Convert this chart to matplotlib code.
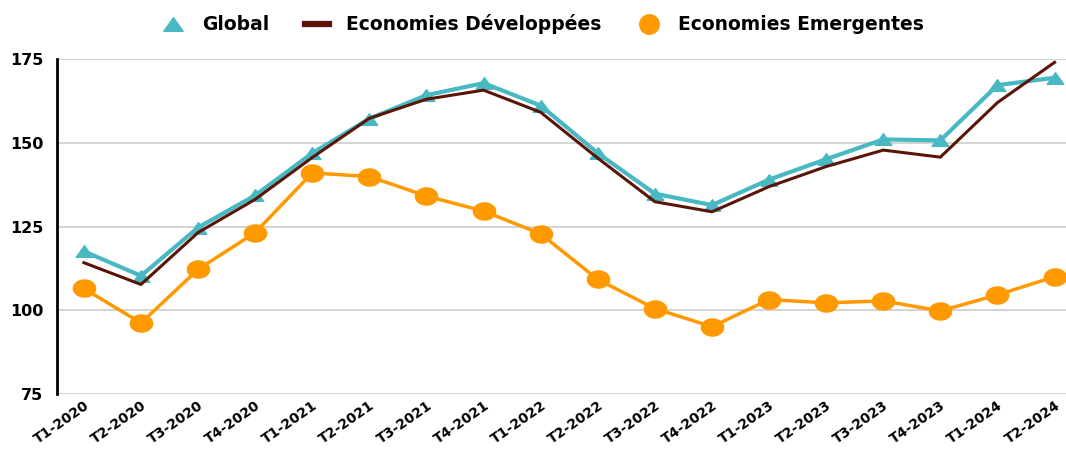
import matplotlib
matplotlib.use("Agg")
import matplotlib.pyplot as plt
import matplotlib.transforms as mtransforms
from matplotlib.lines import Line2D
from matplotlib.path import Path
import numpy as np

quarters = ["T1-2020", "T2-2020", "T3-2020", "T4-2020", "T1-2021", "T2-2021",
            "T3-2021", "T4-2021", "T1-2022", "T2-2022", "T3-2022", "T4-2022",
            "T1-2023", "T2-2023", "T3-2023", "T4-2023", "T1-2024", "T2-2024"]
global_idx = [117.6, 110.3, 124.7, 134.3, 146.9, 157.2, 164.2, 167.8, 161.1, 146.9,
              134.8, 131.4, 139.0, 145.1, 151.0, 150.7, 167.2, 169.4]
developed = [114.2, 107.7, 123.2, 133.1, 145.6, 157.3, 163.0, 165.7, 159.1, 145.4,
             132.4, 129.4, 136.9, 142.9, 147.8, 145.7, 162.0, 174.0]
emerging = [106.5, 96.2, 112.2, 123.2, 141.0, 139.9, 134.1, 129.6, 122.8, 109.2,
            100.5, 95.1, 103.2, 102.2, 102.8, 99.8, 104.6, 110.0]
yticks = [75, 100, 125, 150, 175]

TEAL = "#48B9C3"
BROWN = "#5A1508"
ORANGE = "#FF9900"

plt.rcParams['font.family'] = ['DejaVu Sans']

# stretched markers (the reference is horizontally stretched)
t = np.linspace(0, 2 * np.pi, 60)
ellipse = Path(np.column_stack([1.3 * np.cos(t), np.sin(t)]), closed=True)
wide_tri = Path([(0, 0.7), (-1.0, -0.7), (1.0, -0.7), (0, 0.7)], closed=True)

fig = plt.figure(figsize=(10.66, 4.5), dpi=100)
ax = fig.add_axes([0.0535, 0.1244, 0.9465, 0.7445])

x = list(range(len(quarters)))
ax.plot(x, emerging, color=ORANGE, lw=2.5, marker=ellipse, ms=16, mec=ORANGE, mfc=ORANGE, zorder=3)
ax.plot(x, global_idx, color=TEAL, lw=3, marker=wide_tri, ms=12, mec=TEAL, mfc=TEAL, zorder=4)
ax.plot(x, developed, color=BROWN, lw=2.2, zorder=5)

ax.set_ylim(75, 175)
ax.set_xlim(-0.47, 17.2)
ax.set_yticks(yticks)
ax.set_yticklabels([str(v) for v in yticks], fontsize=11.5, fontweight='bold')
ax.set_xticks(x)
ax.set_xticklabels(quarters, rotation=35, ha='right', va='top', rotation_mode='anchor',
                   fontsize=10, fontweight='bold')
offset = mtransforms.ScaledTranslation(12 / 100, 0, fig.dpi_scale_trans)
for lab in ax.get_xticklabels():
    lab.set_transform(lab.get_transform() + offset)
ax.tick_params(axis='y', length=0, pad=10)
ax.tick_params(axis='x', length=0, pad=3)
ax.grid(axis='y', color='#D0D0D0', lw=1.3)
ax.set_axisbelow(True)
for s in ['top', 'right', 'bottom']:
    ax.spines[s].set_visible(False)
ax.spines['left'].set_color('black')
ax.spines['left'].set_linewidth(2)

handles = [
    Line2D([], [], color=TEAL, marker=wide_tri, ls='none', ms=14),
    Line2D([], [], color=BROWN, lw=4.5),
    Line2D([], [], color=ORANGE, marker='o', ls='none', ms=14),
]
labels = ["Global", "Economies Développées", "Economies Emergentes"]
fig.legend(handles, labels, loc='center', bbox_to_anchor=(0.509, 0.946), ncol=3,
           frameon=False, prop={'size': 13.5, 'weight': 'bold'},
           handlelength=1.3, columnspacing=1.9, handletextpad=0.9)

fig.savefig("out.png", dpi=100)
